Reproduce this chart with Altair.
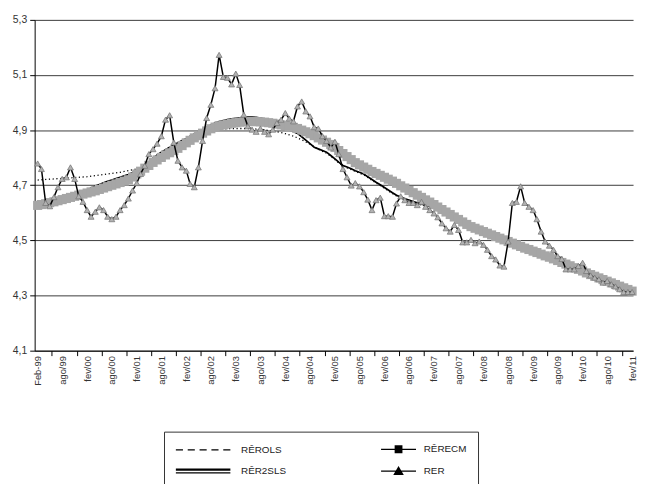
import altair as alt
import pandas as pd

# ---------------- data ----------------
months = pd.date_range("1999-02-01", "2011-02-01", freq="MS")
dates = [d.strftime("%Y-%m-%d") for d in months]

rer = [4.779, 4.759, 4.636, 4.624, 4.657, 4.693, 4.723, 4.729, 4.765, 4.723,
       4.660, 4.640, 4.610, 4.586, 4.604, 4.620, 4.610, 4.586, 4.577, 4.586,
       4.610, 4.628, 4.652, 4.681, 4.708, 4.741, 4.771, 4.813, 4.831, 4.851,
       4.878, 4.938, 4.954, 4.855, 4.789, 4.765, 4.753, 4.705, 4.693, 4.765,
       4.861, 4.944, 4.992, 5.052, 5.173, 5.093, 5.090, 5.066, 5.105, 5.064,
       4.956, 4.914, 4.902, 4.894, 4.906, 4.894, 4.885, 4.902, 4.926, 4.938,
       4.962, 4.942, 4.932, 4.986, 5.004, 4.968, 4.950, 4.911, 4.906, 4.878,
       4.861, 4.837, 4.858, 4.813, 4.759, 4.729, 4.699, 4.708, 4.696, 4.675,
       4.648, 4.610, 4.646, 4.655, 4.588, 4.588, 4.586, 4.634, 4.660, 4.646,
       4.636, 4.636, 4.628, 4.640, 4.622, 4.610, 4.598, 4.584, 4.562, 4.544,
       4.532, 4.556, 4.538, 4.493, 4.493, 4.502, 4.490, 4.496, 4.484, 4.466,
       4.443, 4.431, 4.409, 4.405, 4.496, 4.636, 4.640, 4.696, 4.636, 4.622,
       4.610, 4.577, 4.532, 4.496, 4.481, 4.466, 4.443, 4.433, 4.395, 4.395,
       4.395, 4.407, 4.419, 4.389, 4.373, 4.365, 4.359, 4.347, 4.353, 4.341,
       4.333, 4.323, 4.313, 4.313, 4.313]

ecm = [4.627, 4.630, 4.633, 4.637, 4.640, 4.644, 4.648, 4.652, 4.656, 4.660,
       4.664, 4.668, 4.672, 4.676, 4.680, 4.685, 4.690, 4.695, 4.700, 4.705,
       4.710, 4.715, 4.720, 4.730, 4.741, 4.751, 4.762, 4.772, 4.783, 4.792,
       4.801, 4.810, 4.818, 4.826, 4.834, 4.844, 4.854, 4.863, 4.872, 4.880,
       4.889, 4.897, 4.905, 4.911, 4.916, 4.919, 4.922, 4.925, 4.927, 4.929,
       4.930, 4.931, 4.931, 4.931, 4.930, 4.929, 4.927, 4.925, 4.922, 4.919,
       4.916, 4.913, 4.910, 4.906, 4.900, 4.894, 4.887, 4.880, 4.872, 4.864,
       4.856, 4.848, 4.837, 4.826, 4.815, 4.804, 4.793, 4.782, 4.774, 4.766,
       4.758, 4.750, 4.743, 4.736, 4.729, 4.722, 4.715, 4.707, 4.698, 4.690,
       4.681, 4.673, 4.664, 4.656, 4.647, 4.639, 4.630, 4.621, 4.612, 4.603,
       4.594, 4.585, 4.576, 4.567, 4.558, 4.550, 4.544, 4.538, 4.532, 4.526,
       4.520, 4.514, 4.508, 4.502, 4.496, 4.490, 4.484, 4.478, 4.472, 4.467,
       4.461, 4.456, 4.450, 4.444, 4.439, 4.433, 4.427, 4.420, 4.414, 4.408,
       4.401, 4.395, 4.389, 4.382, 4.376, 4.370, 4.364, 4.358, 4.352, 4.346,
       4.340, 4.334, 4.328, 4.322, 4.316]

sls = [4.628, 4.631, 4.635, 4.639, 4.643, 4.647, 4.651, 4.656, 4.661, 4.666,
       4.671, 4.677, 4.683, 4.690, 4.697, 4.703, 4.709, 4.714, 4.719, 4.724,
       4.729, 4.734, 4.739, 4.746, 4.753, 4.760, 4.772, 4.785, 4.798, 4.810,
       4.820, 4.829, 4.838, 4.846, 4.854, 4.862, 4.870, 4.878, 4.886, 4.893,
       4.902, 4.911, 4.919, 4.926, 4.931, 4.935, 4.938, 4.941, 4.943, 4.945,
       4.946, 4.947, 4.947, 4.946, 4.944, 4.940, 4.934, 4.927, 4.920, 4.913,
       4.906, 4.900, 4.894, 4.888, 4.876, 4.864, 4.851, 4.838, 4.832, 4.826,
       4.820, 4.808, 4.796, 4.784, 4.772, 4.766, 4.760, 4.753, 4.747, 4.741,
       4.731, 4.721, 4.711, 4.702, 4.692, 4.683, 4.673, 4.664, 4.657, 4.651,
       4.646, 4.641, 4.636, 4.632, 4.627, 4.623, 4.618, 4.611, 4.603, 4.594,
       4.586, 4.577, 4.568, 4.559, 4.550, 4.542, 4.536, 4.530, 4.524, 4.518,
       4.512, 4.506, 4.500, 4.494, 4.488, 4.482, 4.476, 4.470, 4.464, 4.459,
       4.453, 4.448, 4.442, 4.436, 4.431, 4.425, 4.419, 4.412, 4.406, 4.400,
       4.393, 4.387, 4.381, 4.374, 4.368, 4.362, 4.356, 4.350, 4.344, 4.338,
       4.332, 4.326, 4.320, 4.314, 4.308]

ols = [4.719, 4.720, 4.721, 4.722, 4.723, 4.724, 4.725, 4.726, 4.727, 4.728,
       4.729, 4.730, 4.731, 4.733, 4.735, 4.737, 4.739, 4.741, 4.743, 4.745,
       4.747, 4.750, 4.753, 4.756, 4.760, 4.763, 4.770, 4.782, 4.795, 4.807,
       4.817, 4.826, 4.835, 4.843, 4.851, 4.859, 4.867, 4.875, 4.882, 4.889,
       4.893, 4.897, 4.900, 4.902, 4.903, 4.904, 4.905, 4.906, 4.906, 4.906,
       4.906, 4.906, 4.905, 4.904, 4.903, 4.901, 4.899, 4.897, 4.894, 4.891,
       4.887, 4.883, 4.878, 4.872, 4.865, 4.857, 4.849, 4.840, 4.831, 4.823,
       4.816, 4.805, 4.793, 4.781, 4.770, 4.763, 4.757, 4.750, 4.744, 4.738,
       4.728, 4.718, 4.708, 4.699, 4.689, 4.680, 4.670, 4.661, 4.654, 4.648,
       4.643, 4.638, 4.633, 4.629, 4.624, 4.620, 4.615, 4.608, 4.600, 4.591,
       4.583, 4.574, 4.565, 4.556, 4.547, 4.539, 4.533, 4.527, 4.521, 4.515,
       4.509, 4.503, 4.497, 4.491, 4.485, 4.479, 4.473, 4.467, 4.461, 4.456,
       4.450, 4.445, 4.439, 4.433, 4.428, 4.422, 4.416, 4.409, 4.403, 4.397,
       4.390, 4.384, 4.378, 4.371, 4.365, 4.359, 4.353, 4.347, 4.341, 4.335,
       4.329, 4.323, 4.317, 4.311, 4.305]

y_ticks = [4.1, 4.3, 4.5, 4.7, 4.9, 5.1, 5.3]
# legend entries, in the order they are laid out (column by column)
legend_names = ["RÊROLS", "RÊR2SLS", "RÊRECM", "RER"]

df = pd.DataFrame({"date": dates, "RER": rer, "ECM": ecm, "SLS": sls, "OLS": ols})
legend_df = pd.DataFrame({"series": legend_names})

# ---------------- scales & axes ----------------
FONT = "Liberation Sans"

xscale = alt.Scale(type="utc", domain=[alt.DateTime(year=1999, month=1, date=10, utc=True),
                                       alt.DateTime(year=2011, month=2, date=8, utc=True)])

label_values = []
tick_values = []
for y in range(1999, 2012):
    label_values.append(alt.DateTime(year=y, month=2, date=1, utc=True))
    if y > 1999:
        tick_values.append(alt.DateTime(year=y - 1, month=11, date=17, utc=True))
    if y < 2011:
        label_values.append(alt.DateTime(year=y, month=8, date=1, utc=True))
        tick_values.append(alt.DateTime(year=y, month=5, date=17, utc=True))

label_axis = alt.Axis(
    orient="bottom", values=label_values, labelAngle=270, ticks=False, tickSize=0,
    labelPadding=5, labelFontSize=9.5, labelFont=FONT, labelColor="#333",
    labelOverlap=False, labelFlush=False, grid=False, title=None,
    domainColor="black", domainWidth=1,
    labelExpr="utcmonth(datum.value) == 1 ? (utcyear(datum.value) == 1999 ? 'Feb-99' : 'fev/' + utcFormat(datum.value, '%y')) : 'ago/' + utcFormat(datum.value, '%y')",
)
tick_axis = alt.Axis(
    orient="bottom", values=tick_values, labels=False, ticks=True, tickSize=5,
    tickColor="black", domain=False, grid=False, title=None,
)

yscale = alt.Scale(domain=[4.1, 5.3], nice=False, zero=False)
yaxis = alt.Axis(
    values=y_ticks, labelExpr="replace(format(datum.value, '.1f'), '.', ',')",
    grid=True, gridColor="#3a3a3a", gridWidth=1, tickSize=5, tickColor="black",
    domainColor="black", labelPadding=3, labelFontSize=10.5, labelFont=FONT,
    labelColor="#333", title=None,
)


def Y(field):
    return alt.Y(f"{field}:Q", scale=yscale, axis=yaxis)


x_none = alt.X("date:T", scale=xscale, axis=None)

base = alt.Chart(df)

sls_line = base.mark_line(color="black", strokeWidth=1.7).encode(
    x=alt.X("date:T", scale=xscale, axis=tick_axis), y=Y("SLS"))
ols_line = base.mark_line(color="black", strokeWidth=1.3, strokeDash=[1.2, 2.6]).encode(
    x=alt.X("date:T", scale=xscale, axis=label_axis), y=Y("OLS"))
ecm_pts = base.mark_point(shape="square", filled=True, size=85, color="#a6a6a6",
                          opacity=1, strokeWidth=0).encode(x=x_none, y=Y("ECM"))
rer_line = base.mark_line(color="black", strokeWidth=1.5).encode(x=x_none, y=Y("RER"))
rer_pts = base.mark_point(shape="triangle-up", filled=True, size=36, fill="#b2b2b2",
                          stroke="#7a7a7a", strokeWidth=0.8, opacity=1).encode(x=x_none, y=Y("RER"))


# ---------------- legend symbols (stroke-only custom paths) ----------------
def seg(x1, x2, yy):
    return f"M{x1:.3f},{yy:.3f}L{x2:.3f},{yy:.3f}"


dash_sym = "".join(seg(a, a + 1.2, 0) for a in (-1, 1, 3, 5, 7))
double_sym = seg(-1, 8.2, -0.32) + seg(-1, 8.2, -0.18) + seg(-1, 8.2, 0.3)
square_sym = ("M-1,0L-1,0" + seg(2.8, 8.7, 0)
              + "M5.2,-0.6L6.3,-0.6L6.3,0.55L5.2,0.55Z"
              + "".join(seg(5.2, 6.3, yy) for yy in (-0.5, -0.3, -0.1, 0.1, 0.3, 0.5)))
tri_parts = []
for yy in (0.45, 0.25, 0.05, -0.15, -0.35, -0.55):
    hw = 0.7 * (yy + 0.65) / 1.2
    tri_parts.append(seg(5.75 - hw, 5.75 + hw, yy))
tri_sym = ("M-1,0L-1,0" + seg(2.8, 8.7, 0)
           + "M5.05,0.55L5.75,-0.65L6.45,0.55Z" + "".join(tri_parts))
legend_paths = [dash_sym, double_sym, square_sym, tri_sym]

legend_layer = alt.Chart(legend_df).mark_point(
    filled=False, color="black", strokeWidth=1.3
).encode(
    shape=alt.Shape(
        "series:N",
        scale=alt.Scale(domain=legend_names, range=legend_paths),
        legend=alt.Legend(
            title=None, orient="none", legendX=131, legendY=417, columns=2,
            symbolSize=144, labelOffset=53, columnPadding=70, rowPadding=9,
            padding=11, strokeColor="#333", fillColor="white",
            labelFont=FONT, labelFontSize=10, labelColor="#222", labelLimit=0,
            symbolStrokeWidth=1.3, symbolStrokeColor="black", symbolOpacity=1,
        ),
    )
).transform_filter("false")

chart = alt.layer(sls_line, ols_line, ecm_pts, rer_line, rer_pts, legend_layer).resolve_axis(
    x="independent"
).properties(
    width=606, height=335,
    autosize=alt.AutoSizeParams(type="none"),
    padding={"left": 27, "top": 9, "right": 5, "bottom": 132},
).configure_view(stroke=None)

chart.save("out.html", embed_options={"renderer": "svg", "actions": False})
